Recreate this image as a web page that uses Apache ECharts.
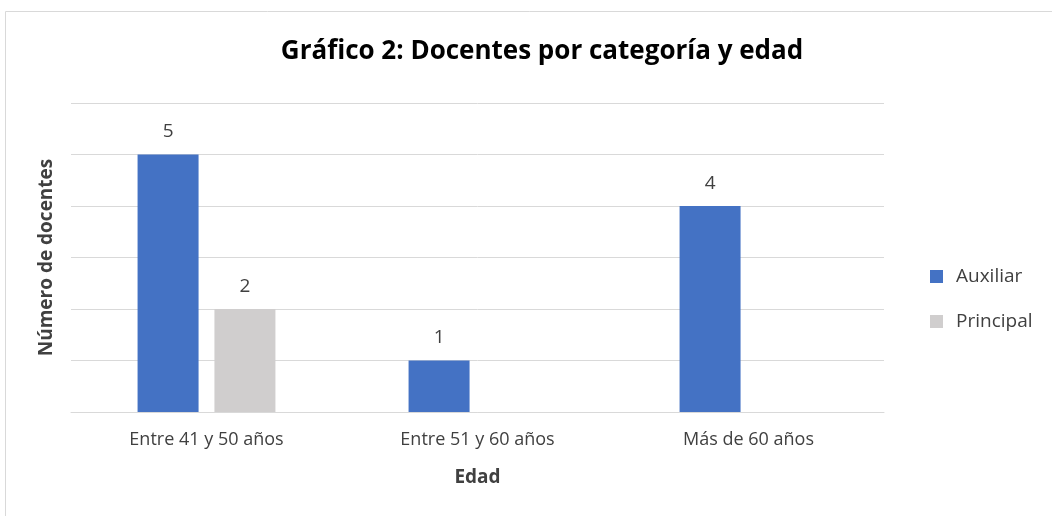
<!DOCTYPE html>
<html>
<head>
<meta charset="utf-8">
<script src="https://cdn.jsdelivr.net/npm/echarts@6/dist/echarts.min.js"></script>
<style>
  html, body { margin: 0; padding: 0; background: #fff; }
  #chart { width: 1052px; height: 516px; }
</style>
</head>
<body>
<div id="chart"></div>
<script>
// categorías de edad
const categorias = ['Entre 41 y 50 años', 'Entre 51 y 60 años', 'Más de 60 años'];
// docentes por categoría
const auxiliar = [5, 1, 4];
const principal = [2, null, null];

const chart = echarts.init(document.getElementById('chart'));
const font = '"Open Sans", "Noto Sans", sans-serif';

const option = {
  animation: false,
  textStyle: { fontFamily: font },
  title: {
    text: 'Gráfico 2: Docentes por categoría y edad',
    left: 537,
    textAlign: 'center',
    top: 34,
    textStyle: { fontSize: 26, fontWeight: 'bold', color: '#000', fontFamily: font }
  },
  graphic: [{
    type: 'rect',
    shape: { x: 5.5, y: 11.5, width: 1200, height: 700 },
    style: { fill: 'none', stroke: '#D9D9D9', lineWidth: 1 },
    silent: true
  }],
  legend: {
    orient: 'vertical',
    left: 925,
    top: 262,
    itemWidth: 13,
    itemHeight: 13,
    itemGap: 26,
    icon: 'rect',
    textStyle: { fontSize: 19, color: '#404040', fontFamily: font, padding: [0, 0, 0, 8] },
    data: ['Auxiliar', 'Principal']
  },
  grid: { left: 71, right: 168, top: 103, bottom: 104 },
  xAxis: {
    type: 'category',
    data: categorias,
    name: 'Edad',
    nameLocation: 'middle',
    nameGap: 56,
    nameTextStyle: { fontSize: 19, fontWeight: 'bold', color: '#404040' },
    axisLine: { lineStyle: { color: '#D9D9D9', width: 1 } },
    axisTick: { show: false },
    axisLabel: { fontSize: 18, color: '#404040', margin: 19 }
  },
  yAxis: {
    type: 'value',
    min: 0,
    max: 6,
    interval: 1,
    name: 'Número de docentes',
    nameLocation: 'middle',
    nameGap: 15,
    nameRotate: 90,
    nameTextStyle: { fontSize: 19, fontWeight: 'bold', color: '#404040' },
    axisLine: { show: false },
    axisTick: { show: false },
    axisLabel: { show: false },
    splitLine: { lineStyle: { color: '#D9D9D9', width: 1 } }
  },
  series: [
    {
      name: 'Auxiliar',
      type: 'bar',
      data: auxiliar,
      barWidth: 61,
      barGap: '26%',
      itemStyle: { color: '#4472C4' },
      label: { show: true, position: 'top', distance: 13, fontSize: 19, color: '#404040' }
    },
    {
      name: 'Principal',
      type: 'bar',
      data: principal,
      barWidth: 61,
      itemStyle: { color: '#D0CECE' },
      label: { show: true, position: 'top', distance: 13, fontSize: 19, color: '#404040' }
    }
  ]
};
chart.setOption(option);
</script>
</body>
</html>
